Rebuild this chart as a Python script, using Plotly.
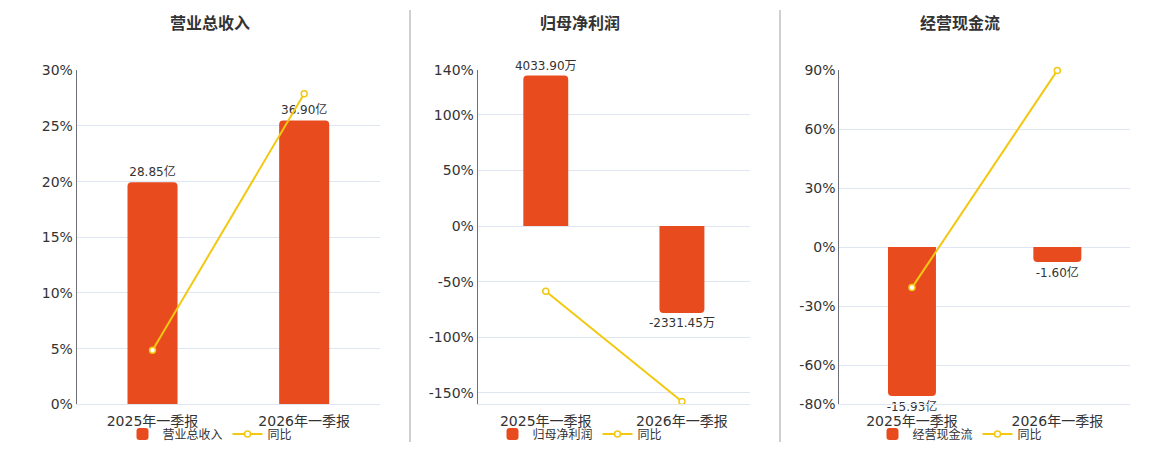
"""
python plot.py

Three small bar + yoy line panels (Q1 report comparison)
"""
import plotly.graph_objects as go

# data
categories = ["2025年一季报", "2026年一季报"]

revenue = [28.85, 36.90]          # 亿
revenue_yoy = [4.85, 27.90]       # %
profit = [4033.90, -2331.45]      # 万
profit_yoy = [-58.6, -157.8]      # %
cashflow = [-15.93, -1.60]        # 亿
cashflow_yoy = [-20.6, 89.96]     # %

titles = ["营业总收入", "归母净利润", "经营现金流"]
units = ["亿", "万", "亿"]
yoy_name = "同比"

revenue_ticks = [0, 5, 10, 15, 20, 25, 30]
profit_ticks = [-150, -100, -50, 0, 50, 100, 140]
cashflow_ticks = [-80, -60, -30, 0, 30, 60, 90]

BAR_COLOR = "#E84C1E"
LINE_COLOR = "#F2C811"
GRID = "#E0E6F1"
AXIS = "#6E7079"
TEXT = "#333333"

# page body has an 8px margin, so the figure is a bit smaller than the window
OFF = 8
W, H = 1160 - 2 * OFF, 450 - 2 * OFF


def px_x(v):
    return (v - OFF) / W


def px_y(v):
    return 1 - (v - OFF) / H


panels = [
    dict(bars=revenue, yoy=revenue_yoy, ticks=revenue_ticks,
         pct_range=[0, 30], bar_range=[0, 43.41],
         xdom=[px_x(76.7), px_x(380)], center=px_x(210)),
    dict(bars=profit, yoy=profit_yoy, ticks=profit_ticks,
         pct_range=[-160.3, 140], bar_range=[-4779, 4174],
         xdom=[px_x(477.7), px_x(750)], center=px_x(580)),
    dict(bars=cashflow, yoy=cashflow_yoy, ticks=cashflow_ticks,
         pct_range=[-80, 90], bar_range=[-16.82, 18.92],
         xdom=[px_x(839.3), px_x(1130)], center=px_x(960)),
]
YDOM = [px_y(404.3), px_y(70.3)]

fig = go.Figure()
layout = {}

for i, p in enumerate(panels, start=1):
    xa = "x" if i == 1 else f"x{i}"
    yb = "y" if i == 1 else f"y{i}"      # bar axis (hidden, base)
    ya = f"y{i + 3}"                      # percent axis (visible, overlay)
    leg = "legend" if i == 1 else f"legend{i}"
    unit = units[i - 1]

    fig.add_trace(go.Bar(
        x=categories, y=p["bars"], xaxis=xa, yaxis=yb,
        name=titles[i - 1], legend=leg,
        marker=dict(color=BAR_COLOR, cornerradius=4, line=dict(width=0)),
        width=0.33,
        text=[f"{v:.2f}{unit}" for v in p["bars"]],
        textposition="outside", constraintext="none", cliponaxis=False,
        textfont=dict(size=12, color=TEXT),
    ))
    fig.add_trace(go.Scatter(
        x=categories, y=p["yoy"], xaxis=xa, yaxis=ya,
        name=yoy_name, legend=leg, mode="lines+markers",
        line=dict(color=LINE_COLOR, width=2),
        marker=dict(symbol="circle", size=6, color="white",
                    line=dict(color=LINE_COLOR, width=1.5)),
        cliponaxis=False,
    ))

    lo, hi = p["pct_range"]
    zero_pos = YDOM[0] + (0 - lo) / (hi - lo) * (YDOM[1] - YDOM[0])

    layout[f"xaxis{i}"] = dict(
        domain=p["xdom"], anchor=yb, type="category", range=[-0.5, 1.5],
        showline=True, linecolor=GRID, linewidth=1, ticks="",
        showgrid=False, automargin=False, ticklabelstandoff=4,
        tickfont=dict(size=14, color=TEXT),
    )
    # axis line + boundary ticks drawn at the zero level
    layout[f"xaxis{i + 3}"] = dict(
        overlaying=xa, anchor="free", position=zero_pos,
        range=[-0.5, 1.5], tickvals=[-0.5, 0.5, 1.5], showticklabels=False,
        ticks="outside", ticklen=5, tickcolor=AXIS,
        showline=True, linecolor=AXIS, linewidth=2, showgrid=False,
        zeroline=False, automargin=False,
    )
    layout[f"yaxis{i}"] = dict(
        domain=YDOM, anchor=xa, range=p["bar_range"], visible=False,
        showgrid=False, zeroline=False, automargin=False,
    )
    layout[f"yaxis{i + 3}"] = dict(
        overlaying=yb, anchor=xa, side="left",
        range=p["pct_range"], tickvals=p["ticks"],
        ticktext=[f"{v}%" for v in p["ticks"]],
        showline=True, linecolor=AXIS, linewidth=1,
        showgrid=True, gridcolor=GRID, zeroline=False, ticks="",
        automargin=False, tickfont=dict(size=14, color=TEXT),
    )
    layout[leg] = dict(
        orientation="h", x=p["center"], xanchor="center", y=px_y(434),
        yanchor="middle", font=dict(size=12, color=TEXT),
        bgcolor="rgba(0,0,0,0)", itemwidth=30,
    )

fig.update_layout(**layout)

# panel titles
for t, p in zip(titles, panels):
    fig.add_annotation(
        text=f"<b>{t}</b>", x=p["center"], y=px_y(22), xref="paper", yref="paper",
        xanchor="center", yanchor="middle", showarrow=False,
        font=dict(size=16, color=TEXT, family="Noto Sans CJK SC"),
    )

# separators between panels
for sx in [410, 780]:
    fig.add_shape(type="line", xref="paper", yref="paper",
                  x0=px_x(sx), x1=px_x(sx), y0=px_y(442), y1=px_y(10),
                  line=dict(color="#A0A0A0", width=1))

fig.update_layout(
    width=W, height=H,
    margin=dict(l=0, r=0, t=0, b=0, autoexpand=False),
    paper_bgcolor="white", plot_bgcolor="white",
    font=dict(family="DejaVu Sans, Noto Sans CJK SC", color=TEXT),
    hovermode=False,
)

fig.write_html("out.html")
